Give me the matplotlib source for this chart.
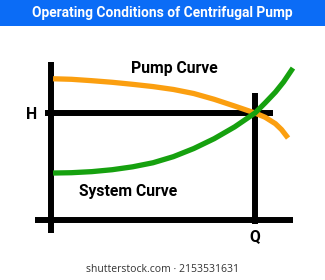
import matplotlib
matplotlib.use("Agg")
import matplotlib.pyplot as plt

# ---- data (arbitrary flow / head units) ----
pump_q = [0.1, 1.0, 2.0, 3.0, 4.0, 5.0, 6.0, 7.0, 8.0, 9.0, 10.0, 10.5, 11.0, 11.3, 11.62]
pump_h = [13.2, 13.15, 13.02, 12.87, 12.68, 12.47, 12.2, 11.82, 11.28, 10.65, 10.0, 9.6, 9.0, 8.45, 7.66]
sys_q = [0.1, 1.0, 2.0, 3.0, 4.0, 5.0, 6.0, 7.0, 8.0, 9.0, 10.0, 10.5, 11.0, 11.4, 11.86]
sys_h = [4.39, 4.42, 4.52, 4.7, 4.97, 5.35, 5.92, 6.68, 7.6, 8.7, 10.0, 10.95, 11.95, 12.9, 14.2]
q_op = 10.0
h_op = 10.0
title = "Operating Conditions of Centrifugal Pump"
pump_label = "Pump Curve"
system_label = "System Curve"
watermark = "shutterstock.com \u00b7 2153531631"

big = dict(family="Roboto", fontweight="bold", fontsize=11.3)
title_kw = dict(family="Roboto", fontweight="bold", fontsize=9.9)

W, H = 325, 280
fig = plt.figure(figsize=(W / 100, H / 100), dpi=100)
fig.patch.set_facecolor("white")

# title bar
bg = fig.add_axes([0, 0, 1, 1])
bg.set_xlim(0, W)
bg.set_ylim(H, 0)
bg.axis("off")
bg.add_patch(plt.Rectangle((0, 0), W, 26, color="#0b6cf6", lw=0))
bg.text(162, 13.5, title, color="white", ha="center", va="center", **title_kw)
bg.text(162, 270, watermark, color="#333333", fontsize=7.5, family="Open Sans",
        ha="center", va="center")

# chart axes: origin at pixel (51,220); 20.4 px per x unit, 10.7 px per y unit
sx, sy = 20.4, 10.7
xmin, xmax, ymin, ymax = -1.5, 13.0, -2.5, 15.5
ax = fig.add_axes([(51 + xmin * sx) / W, (H - (220 - ymin * sy)) / H,
                   (xmax - xmin) * sx / W, (ymax - ymin) * sy / H])
ax.set_xlim(xmin, xmax)
ax.set_ylim(ymin, ymax)
ax.axis("off")
ax.patch.set_alpha(0)

lw_axis = 4.3
kw = dict(color="black", lw=lw_axis, solid_capstyle="butt", clip_on=False)
ax.plot([0, 0], [-1.21, 14.77], **kw)
ax.plot([-0.78, 11.86], [0, 0], **kw)
ax.plot([-0.29, 10.88], [h_op, h_op], **kw)
ax.plot([q_op, q_op], [-0.37, 11.87], **kw)

ax.plot(pump_q, pump_h, color="#fb9f10", lw=3.8, solid_capstyle="butt",
        solid_joinstyle="round", zorder=3)
ax.plot(sys_q, sys_h, color="#16a10f", lw=3.8, solid_capstyle="butt",
        solid_joinstyle="round", zorder=4)

tk = dict(color="black", ha="center", va="center", **big)
ax.text(-0.93, h_op - 0.1, "H", **tk)
ax.text(q_op, -1.5, "Q", **tk)
ax.text(6.03, 14.2, pump_label, **tk)
ax.text(3.77, 2.7, system_label, **tk)

fig.savefig("out.png", dpi=100)
